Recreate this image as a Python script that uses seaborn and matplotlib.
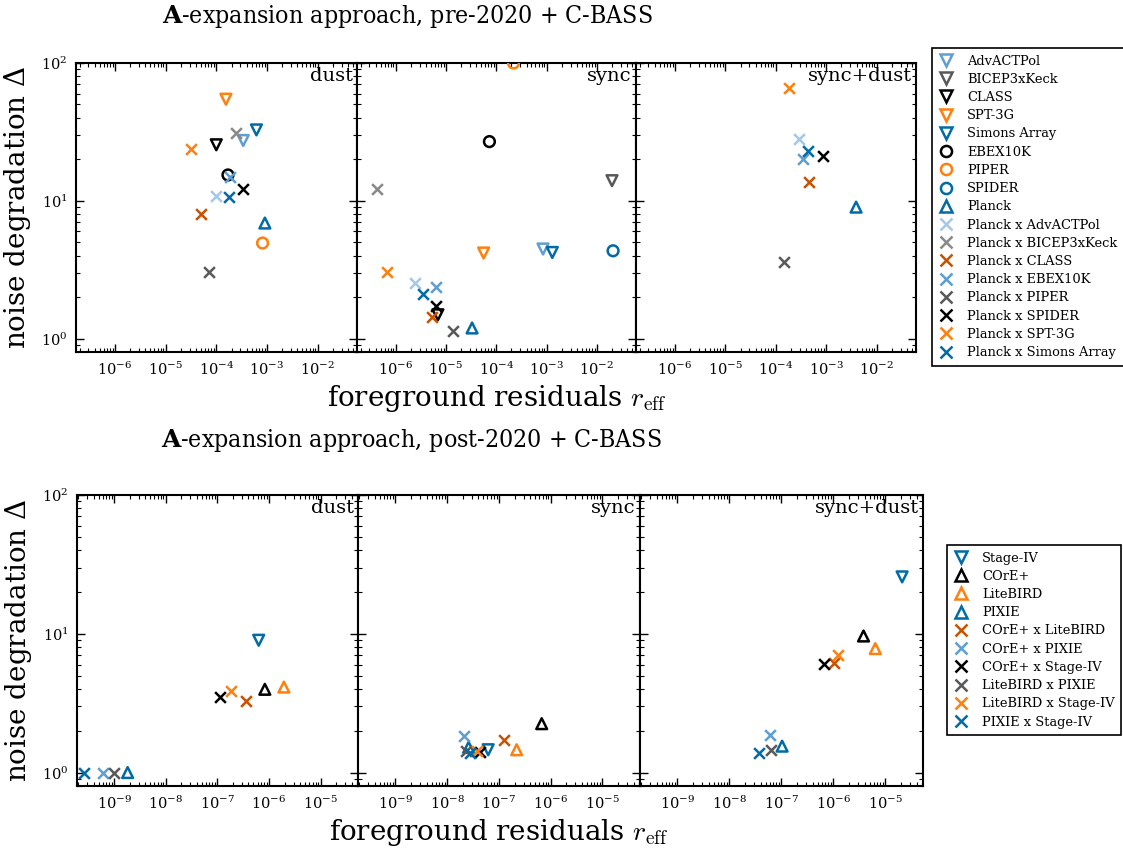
import numpy as np
import matplotlib
matplotlib.use("Agg")
import matplotlib.pyplot as plt
from matplotlib.lines import Line2D
import seaborn as sns

# ---------------------------------------------------------------- data
NAN = np.nan

PRE_NAMES = ["AdvACTPol", "BICEP3xKeck", "CLASS", "SPT-3G", "Simons Array",
             "EBEX10K", "PIPER", "SPIDER", "Planck",
             "Planck x AdvACTPol", "Planck x BICEP3xKeck", "Planck x CLASS",
             "Planck x EBEX10K", "Planck x PIPER", "Planck x SPIDER",
             "Planck x SPT-3G", "Planck x Simons Array"]

PRE_DUST_R = [3.4e-4, NAN, 1.0e-4, 1.55e-4, 6.2e-4, 1.7e-4, 8.2e-4, NAN, 9.1e-4,
              1.0e-4, 2.5e-4, 5.1e-5, 1.9e-4, 7.1e-5, 3.4e-4, 3.2e-5, 1.8e-4]
PRE_DUST_DELTA = [27.4, NAN, 25.5, 54.6, 32.7, 15.4, 4.94, NAN, 6.9,
                  10.9, 31.0, 8.05, 14.8, 3.02, 12.2, 23.7, 10.6]

PRE_SYNC_R = [8.5e-4, 2.0e-2, 6.9e-6, 5.6e-5, 1.3e-3, 7.3e-5, 2.2e-4, 2.1e-2, 3.3e-5,
              2.4e-6, 4.2e-7, 5.2e-6, 6.3e-6, 1.37e-5, 6.4e-6, 6.6e-7, 3.5e-6]
PRE_SYNC_DELTA = [4.47, 14.0, 1.49, 4.18, 4.22, 26.9, 100.0, 4.34, 1.195,
                  2.53, 12.2, 1.44, 2.37, 1.14, 1.73, 3.07, 2.12]

PRE_BOTH_R = [NAN, NAN, NAN, NAN, NAN, NAN, NAN, NAN, 3.9e-3,
              2.9e-4, NAN, 4.6e-4, 3.4e-4, 1.44e-4, 8.7e-4, 1.86e-4, 4.4e-4]
PRE_BOTH_DELTA = [NAN, NAN, NAN, NAN, NAN, NAN, NAN, NAN, 9.0,
                  28.1, NAN, 13.6, 20.2, 3.6, 21.2, 65.6, 22.8]

POST_NAMES = ["Stage-IV", "COrE+", "LiteBIRD", "PIXIE",
              "COrE+ x LiteBIRD", "COrE+ x PIXIE", "COrE+ x Stage-IV",
              "LiteBIRD x PIXIE", "LiteBIRD x Stage-IV", "PIXIE x Stage-IV"]

POST_DUST_R = [6.3e-7, 8.3e-7, 1.94e-6, 1.82e-9, 3.6e-7, 6.1e-10, 1.14e-7,
               1.0e-9, 1.84e-7, 2.6e-10]
POST_DUST_DELTA = [8.98, 3.98, 4.13, 1.0, 3.27, 1.0, 3.5, 1.0, 3.85, 1.0]

POST_SYNC_R = [6.2e-8, 6.7e-7, 2.2e-7, 2.6e-8, 1.25e-7, 2.13e-8, 4.4e-8,
               2.3e-8, 3.7e-8, 2.8e-8]
POST_SYNC_DELTA = [1.46, 2.25, 1.46, 1.52, 1.73, 1.83, 1.40, 1.44, 1.43, 1.38]

POST_BOTH_R = [2.1e-5, 3.8e-6, 6.4e-6, 1.03e-7, 1.05e-6, 5.9e-8, 6.5e-7,
               6.4e-8, 1.24e-6, 3.65e-8]
POST_BOTH_DELTA = [25.7, 9.64, 7.82, 1.55, 6.2, 1.87, 6.1, 1.46, 7.0, 1.38]

COMPONENTS = ["dust", "sync", "sync+dust"]
PRE_XTICKS = [1e-6, 1e-5, 1e-4, 1e-3, 1e-2]
POST_XTICKS = [1e-9, 1e-8, 1e-7, 1e-6, 1e-5]
YTICKS = [1, 10, 100]

# ---------------------------------------------------------------- styling
BLUE, ORANGE = "#006BA4", "#FF800E"
MIDBLUE, LIGHTBLUE = "#5F9ED1", "#A2C8EC"
DARKGREY, GREY, RUST = "#595959", "#898989", "#C85200"

PRE_COLORS = [MIDBLUE, DARKGREY, "k", ORANGE, BLUE, "k", ORANGE, BLUE, BLUE,
              LIGHTBLUE, GREY, RUST, MIDBLUE, DARKGREY, "k", ORANGE, BLUE]
PRE_MARKERS = ["v"] * 5 + ["o"] * 3 + ["^"] + ["x"] * 8

POST_COLORS = [BLUE, "k", ORANGE, BLUE, RUST, MIDBLUE, "k", DARKGREY, ORANGE, BLUE]
POST_MARKERS = ["v", "^", "^", "^"] + ["x"] * 6

sns.set_style("ticks")
plt.rcParams.update({
    "font.family": ["DejaVu Serif"],
    "mathtext.fontset": "cm",
    "text.color": "black",
    "axes.labelcolor": "black",
    "axes.linewidth": 1.5,
    "axes.edgecolor": "black",
    "xtick.direction": "in", "ytick.direction": "in",
    "xtick.top": True, "ytick.right": True,
    "xtick.bottom": True, "ytick.left": True,
    "xtick.major.size": 6, "ytick.major.size": 6,
    "xtick.minor.size": 3, "ytick.minor.size": 3,
    "xtick.major.width": 1.0, "ytick.major.width": 1.0,
    "xtick.minor.width": 0.8, "ytick.minor.width": 0.8,
    "xtick.color": "black", "ytick.color": "black",
    "xtick.labelcolor": "black", "ytick.labelcolor": "black",
    "xtick.labelsize": 10.5, "ytick.labelsize": 10.5,
    "xtick.major.pad": 6, "ytick.major.pad": 6,
})

MS = 60
LW = 1.8

fig = plt.figure(figsize=(11.23, 8.5), dpi=100)
W, H = 1123.0, 850.0


def px_axes(x0, x1, y0, y1):
    return fig.add_axes([x0 / W, 1 - y1 / H, (x1 - x0) / W, (y1 - y0) / H])


def draw_row(edges, ytop, ybot, xlim, xticks, colors, markers, tables,
             title, title_x, title_y):
    axes = []
    for i in range(3):
        ax = px_axes(edges[i], edges[i + 1], ytop, ybot)
        ax.set_xscale("log")
        ax.set_yscale("log")
        r_vals, d_vals = tables[i]
        for r, d, col, mk in zip(r_vals, d_vals, colors, markers):
            if np.isnan(r):
                continue
            kw = dict(marker=mk, s=MS, linewidth=LW, zorder=3, legend=False)
            if mk == "x":
                kw.update(color=col)
            else:
                kw.update(color=col, facecolor="none", edgecolor=col)
            sns.scatterplot(x=[r], y=[d], ax=ax, **kw)
        ax.set_xticks(xticks)
        ax.set_yticks(YTICKS)
        ax.set_xlim(*xlim)
        ax.set_ylim(0.8, 100)
        ax.set_xlabel("")
        ax.set_ylabel("")
        ax.tick_params(which="both", top=True, right=True, direction="in",
                       colors="black")
        if i > 0:
            ax.tick_params(labelleft=False)
        ax.text(0.985, 0.985, COMPONENTS[i], transform=ax.transAxes,
                ha="right", va="top", fontsize=14, color="black")
        for s in ax.spines.values():
            s.set_linewidth(1.5)
            s.set_color("black")
        axes.append(ax)
    axes[0].set_ylabel(r"noise degradation $\Delta$", fontsize=20, labelpad=6,
                       math_fontfamily="dejavuserif", color="black")
    axes[1].set_xlabel(r"foreground residuals $r_{\rm eff}$", fontsize=20,
                       labelpad=4, color="black")
    fig.text(title_x / W, 1 - title_y / H, title, ha="center", va="center",
             fontsize=17.8, fontstretch="condensed", color="black",
             math_fontfamily="dejavuserif")
    return axes


def legend_for(names, colors, markers, x, y):
    handles = []
    for name, col, mk in zip(names, colors, markers):
        if mk == "x":
            h = Line2D([], [], ls="none", marker=mk, color=col, markersize=8,
                       markeredgewidth=LW)
        else:
            h = Line2D([], [], ls="none", marker=mk, color=col, markersize=8,
                       markerfacecolor="none", markeredgecolor=col,
                       markeredgewidth=LW)
        handles.append(h)
    leg = fig.legend(handles, names, loc="upper left",
                     bbox_to_anchor=(x / W, 1 - y / H), fontsize=9.4,
                     frameon=True, fancybox=False, framealpha=1, edgecolor="black",
                     handlelength=1.2, handletextpad=1.0, labelspacing=0.40,
                     borderpad=0.5, borderaxespad=0)
    leg.get_frame().set_linewidth(1.2)
    for t in leg.get_texts():
        t.set_color("black")
    return leg


draw_row([76, 357, 636, 916], 63, 352, (1.7e-7, 6e-2), PRE_XTICKS,
         PRE_COLORS, PRE_MARKERS,
         [(PRE_DUST_R, PRE_DUST_DELTA), (PRE_SYNC_R, PRE_SYNC_DELTA),
          (PRE_BOTH_R, PRE_BOTH_DELTA)],
         r"$\mathbf{A}$-expansion approach, pre-2020 + C-BASS", 407, 16)

draw_row([77, 358, 640, 923], 495, 786, (1.9e-10, 5.3e-5), POST_XTICKS,
         POST_COLORS, POST_MARKERS,
         [(POST_DUST_R, POST_DUST_DELTA), (POST_SYNC_R, POST_SYNC_DELTA),
          (POST_BOTH_R, POST_BOTH_DELTA)],
         r"$\mathbf{A}$-expansion approach, post-2020 + C-BASS", 411, 441)

legend_for(PRE_NAMES, PRE_COLORS, PRE_MARKERS, 932, 48)
legend_for(POST_NAMES, POST_COLORS, POST_MARKERS, 947, 545)

fig.savefig("out.png", dpi=100, facecolor="white")
